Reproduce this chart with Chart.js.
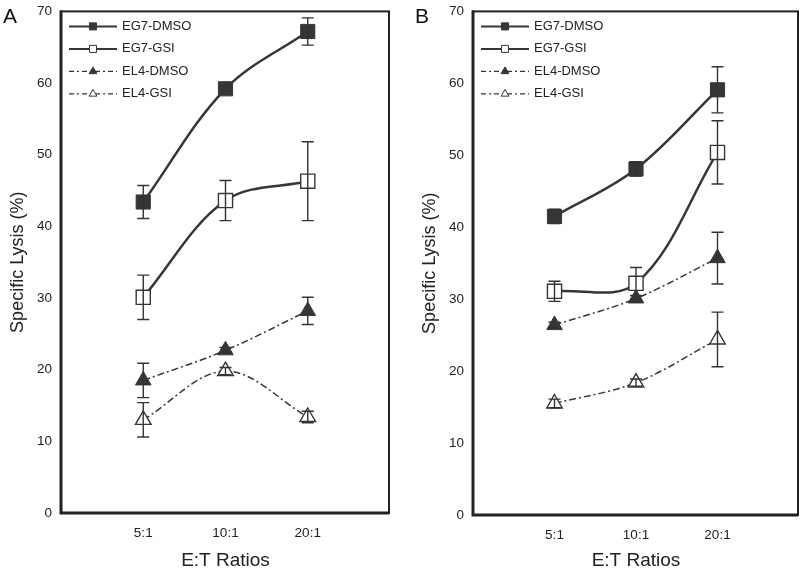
<!DOCTYPE html>
<html>
<head>
<meta charset="utf-8">
<script src="https://cdn.jsdelivr.net/npm/chart.js@4.4.1/dist/chart.umd.min.js"></script>
<style>
  html, body { margin: 0; padding: 0; background: #fff; }
  #wrap { position: relative; width: 800px; height: 568px; overflow: hidden; }
  .panel { position: absolute; top: 0; height: 568px; }
</style>
</head>
<body>
<div id="wrap">
  <!-- x tick padding also pads the right side by 12px, so panels are a bit wider -->
  <div class="panel" style="left:0;width:402px"><canvas id="panelA"></canvas></div>
  <div class="panel" style="left:400px;width:411px"><canvas id="panelB"></canvas></div>
</div>
<script>
// E:T ratio categories (placed at x = 1, 2, 3 on a 0..4 axis)
const ratioLabels = ['5:1', '10:1', '20:1'];
const yTicks = [0, 10, 20, 30, 40, 50, 60, 70];
const seriesNames = ['EG7-DMSO', 'EG7-GSI', 'EL4-DMSO', 'EL4-GSI'];

// panel A
const aEg7Dmso = [43.4, 59.2, 67.2];
const aEg7DmsoErr = [2.3, 0.4, 1.9];
const aEg7Gsi = [30.1, 43.6, 46.3];
const aEg7GsiErr = [3.1, 2.8, 5.5];
const aEl4Dmso = [18.5, 22.7, 28.2];
const aEl4DmsoErr = [2.4, 0.4, 1.9];
const aEl4Gsi = [13.0, 19.8, 13.4];
const aEl4GsiErr = [2.4, 0.5, 0.8];

// panel B
const bEg7Dmso = [41.5, 48.1, 59.1];
const bEg7DmsoErr = [1.0, 1.0, 3.2];
const bEg7Gsi = [31.1, 32.2, 50.4];
const bEg7GsiErr = [1.4, 2.2, 4.4];
const bEl4Dmso = [26.4, 30.1, 35.7];
const bEl4DmsoErr = [0.4, 0.4, 3.6];
const bEl4Gsi = [15.5, 18.4, 24.4];
const bEl4GsiErr = [0.6, 0.5, 3.8];

const INK = '#363636';
const DASHDOT = [7, 3, 2, 3];
const FONT = '"Liberation Sans", Arial, sans-serif';

function styleFor(i) {
  // 0: filled square solid, 1: open square solid, 2: filled triangle dash-dot, 3: open triangle dash-dot
  const square = i < 2;
  const filled = i % 2 === 0;
  return {
    pointStyle: square ? 'rect' : 'triangle',
    pointRadius: square ? 10 : 9,
    pointBackgroundColor: filled ? INK : '#fff',
    pointBorderColor: INK,
    pointBorderWidth: filled ? 1 : 1.4,
    borderColor: INK,
    borderWidth: square ? 2.5 : 1.5,
    borderDash: square ? [] : DASHDOT
  };
}

function toPoints(values) {
  return values.map((v, i) => ({ x: i + 1, y: v }));
}

const errorBars = {
  id: 'errorBars',
  afterDatasetsDraw(chart) {
    const ctx = chart.ctx;
    const xs = chart.scales.x, ys = chart.scales.y;
    ctx.save();
    ctx.strokeStyle = '#333';
    ctx.lineWidth = 1.4;
    chart.data.datasets.forEach(ds => {
      ds.errors.forEach((e, i) => {
        const p = ds.data[i];
        const x = xs.getPixelForValue(p.x);
        const yTop = ys.getPixelForValue(p.y + e);
        const yBot = ys.getPixelForValue(p.y - e);
        ctx.beginPath();
        ctx.moveTo(x, yTop); ctx.lineTo(x, yBot);
        ctx.moveTo(x - 6, yTop); ctx.lineTo(x + 6, yTop);
        ctx.moveTo(x - 6, yBot); ctx.lineTo(x + 6, yBot);
        ctx.stroke();
      });
    });
    ctx.restore();
  }
};

const frameAndLegend = {
  id: 'frameAndLegend',
  afterDraw(chart, args, opts) {
    const ctx = chart.ctx;
    const a = chart.chartArea;
    ctx.save();
    // plot frame: heavier left/bottom
    ctx.strokeStyle = '#222';
    ctx.lineWidth = 2;
    ctx.strokeRect(a.left, a.top, a.right - a.left - 1, a.bottom - a.top);
    ctx.lineWidth = 3;
    ctx.beginPath();
    ctx.moveTo(a.left, a.top - 1);
    ctx.lineTo(a.left, a.bottom);
    ctx.lineTo(a.right - 1, a.bottom);
    ctx.stroke();

    // legend in the upper-left corner of the plot
    ctx.font = '13px ' + FONT;
    ctx.textBaseline = 'middle';
    chart.data.datasets.forEach((ds, i) => {
      const y = a.top + 15 + i * 22.5;
      const x0 = a.left + 8;
      ctx.strokeStyle = INK;
      ctx.lineWidth = i < 2 ? 2 : 1.3;
      ctx.setLineDash(i < 2 ? [] : [5, 3, 2, 3]);
      ctx.beginPath();
      ctx.moveTo(x0, y);
      ctx.lineTo(x0 + 48, y);
      ctx.stroke();
      ctx.setLineDash([]);
      ctx.fillStyle = ds.pointBackgroundColor;
      ctx.strokeStyle = INK;
      ctx.lineWidth = 1;
      Chart.helpers.drawPoint(ctx, {
        pointStyle: ds.pointStyle,
        radius: i < 2 ? 5 : 4.5,
        rotation: 0,
        borderWidth: 1
      }, x0 + 24, y);
      ctx.fillStyle = '#222';
      ctx.fillText(ds.label, x0 + 53, y);
    });

    // panel letter
    ctx.font = '21px ' + FONT;
    ctx.textBaseline = 'alphabetic';
    ctx.fillStyle = '#111';
    ctx.fillText(opts.letter, opts.letterX, 23);
    ctx.restore();
  }
};

function makePanel(canvasId, letter, letterX, yWidth, yTitlePad, xHeight, seriesValues, seriesErrors) {
  const datasets = seriesNames.map((name, i) => Object.assign({
    label: name,
    data: toPoints(seriesValues[i]),
    errors: seriesErrors[i],
    tension: 0.35,
    fill: false
  }, styleFor(i)));

  return new Chart(document.getElementById(canvasId), {
    type: 'line',
    data: { datasets },
    plugins: [errorBars, frameAndLegend],
    options: {
      responsive: true,
      maintainAspectRatio: false,
      animation: false,
      events: [],
      layout: { padding: { top: 5, left: 0, right: 0, bottom: 0 } },
      plugins: {
        legend: { display: false },
        tooltip: { enabled: false },
        frameAndLegend: { letter, letterX }
      },
      scales: {
        x: {
          type: 'linear',
          min: 0,
          max: 4,
          grid: { display: false, drawTicks: false },
          border: { display: false },
          ticks: {
            stepSize: 1,
            padding: 12,
            color: '#222',
            font: { family: FONT, size: 13.5 },
            callback: v => ratioLabels[v - 1] || ''
          },
          title: {
            display: true,
            text: 'E:T Ratios',
            color: '#222',
            font: { family: FONT, size: 19, lineHeight: 0.8 },
            padding: { top: 0, bottom: 0 }
          },
          afterFit(scale) {
            scale.height = xHeight;
          }
        },
        y: {
          min: 0,
          max: 70,
          grid: { display: false, drawTicks: false },
          border: { display: false },
          afterBuildTicks(scale) {
            scale.ticks = yTicks.map(v => ({ value: v }));
          },
          ticks: {
            padding: 9,
            color: '#222',
            font: { family: FONT, size: 13.5 }
          },
          title: {
            display: true,
            text: 'Specific Lysis (%)',
            color: '#222',
            font: { family: FONT, size: 18, lineHeight: 1 },
            padding: { top: yTitlePad, bottom: 0 }
          },
          afterFit(scale) {
            scale.width = yWidth;
            scale.paddingTop = 0;
            scale.paddingBottom = 0;
          }
        }
      }
    }
  });
}

makePanel('panelA', 'A', 3, 61, 9, 55,
  [aEg7Dmso, aEg7Gsi, aEl4Dmso, aEl4Gsi],
  [aEg7DmsoErr, aEg7GsiErr, aEl4DmsoErr, aEl4GsiErr]);

makePanel('panelB', 'B', 15, 73, 21, 53,
  [bEg7Dmso, bEg7Gsi, bEl4Dmso, bEl4Gsi],
  [bEg7DmsoErr, bEg7GsiErr, bEl4DmsoErr, bEl4GsiErr]);
</script>
</body>
</html>
